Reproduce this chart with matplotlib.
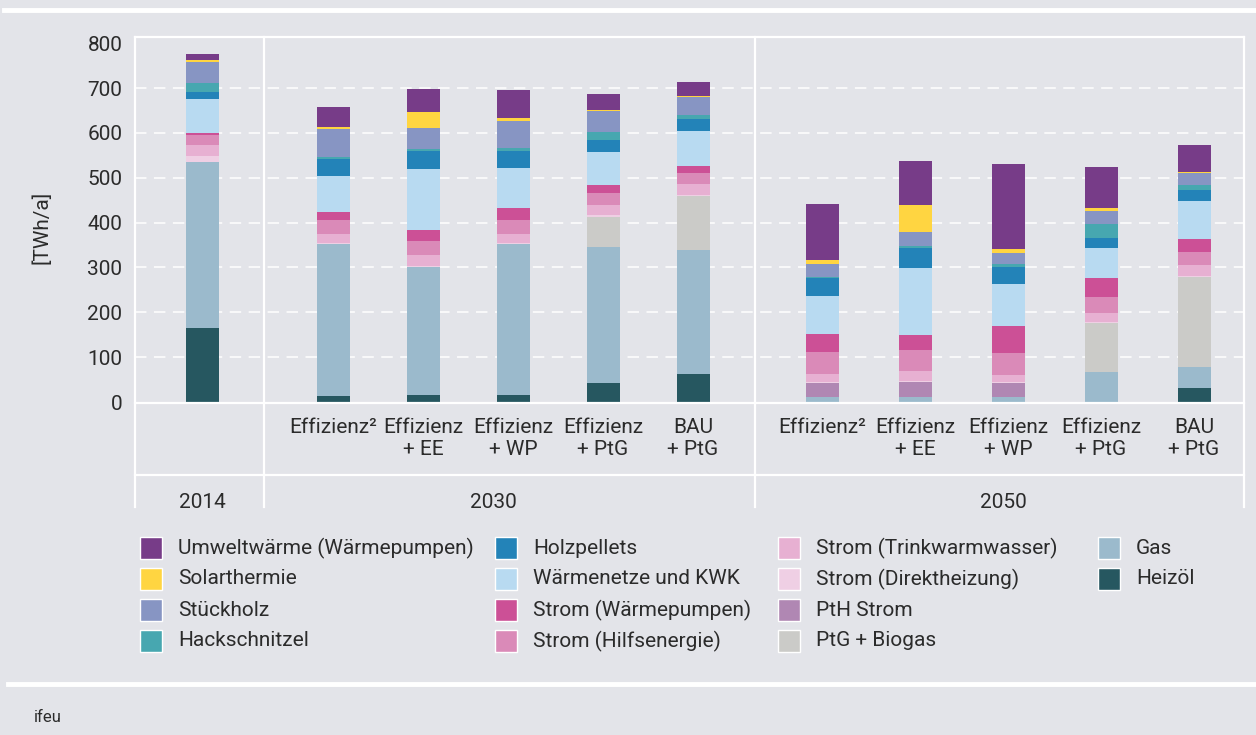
import matplotlib
matplotlib.use('Agg')
import matplotlib.pyplot as plt
from matplotlib.patches import Rectangle
from matplotlib.lines import Line2D

plt.rcParams['font.family'] = ['Roboto', 'DejaVu Sans']

W, H = 1256, 735
BG = '#e3e4e9'
TXT = '#2b2b2b'
FS = 15

# --- data (TWh/a), 11 bars: 2014, five 2030 scenarios, five 2050 scenarios ---
year_labels = ['2014', '2030', '2050']
scen_labels = ['',
               'Effizienz²', 'Effizienz\n+ EE', 'Effizienz\n+ WP', 'Effizienz\n+ PtG', 'BAU\n+ PtG',
               'Effizienz²', 'Effizienz\n+ EE', 'Effizienz\n+ WP', 'Effizienz\n+ PtG', 'BAU\n+ PtG']
group_sizes = [1, 5, 5]

# stack order bottom -> top
heizoel       = [165,  13,  15,  15,  42,  62,   0,   0,   0,   0,  31]
gas           = [370, 339, 286, 337, 303, 277,  11,  11,  11,  67,  47]
ptg_biogas    = [  0,   0,   0,   0,  67, 120,   0,   0,   0, 109, 201]
pth_strom     = [  0,   0,   0,   0,   0,   0,  31,  34,  31,   0,   0]
strom_direkt  = [ 14,   2,   2,   2,   5,   2,   3,   2,   3,   2,   2]
strom_trink   = [ 24,  20,  25,  20,  22,  25,  17,  22,  15,  20,  24]
strom_hilfs   = [ 22,  31,  30,  31,  27,  24,  49,  47,  50,  36,  29]
strom_wp      = [  6,  18,  25,  27,  18,  16,  40,  33,  59,  42,  29]
waermenetze   = [ 75,  81, 137,  90,  73,  78,  85, 149,  94,  67,  85]
holzpellets   = [ 16,  38,  40,  38,  27,  27,  40,  45,  38,  22,  24]
hackschnitzel = [ 20,   5,   4,   6,  18,   9,   3,   4,   6,  32,  11]
stueckholz    = [ 46,  62,  47,  61,  47,  40,  28,  32,  25,  28,  27]
solarthermie  = [  5,   4,  36,   6,   2,   2,   9,  60,   9,   7,   3]
umweltwaerme  = [ 13,  45,  51,  63,  36,  31, 125,  98, 189,  92,  60]

series = [
    ('Heizöl', heizoel, '#265760'),
    ('Gas', gas, '#9bbacc'),
    ('PtG + Biogas', ptg_biogas, '#cbcbc8'),
    ('PtH Strom', pth_strom, '#b087b3'),
    ('Strom (Direktheizung)', strom_direkt, '#efcfe4'),
    ('Strom (Trinkwarmwasser)', strom_trink, '#e7b0d2'),
    ('Strom (Hilfsenergie)', strom_hilfs, '#da8ab8'),
    ('Strom (Wärmepumpen)', strom_wp, '#cc5096'),
    ('Wärmenetze und KWK', waermenetze, '#b8daf1'),
    ('Holzpellets', holzpellets, '#2383b8'),
    ('Hackschnitzel', hackschnitzel, '#47a7b0'),
    ('Stückholz', stueckholz, '#8795c3'),
    ('Solarthermie', solarthermie, '#ffd541'),
    ('Umweltwärme (Wärmepumpen)', umweltwaerme, '#773c88'),
]

# --- layout (pixel based) ---
def fx(x):
    return x / W

def fy(y):
    return 1 - y / H

ax_l, ax_r, ax_t, ax_b = 135, 1244, 37, 402
sep_x = [ax_l, 264, 755, ax_r]
group_first = [202, 333, 822]
group_step = [0, 90, 93]
xpos = []
for g, n in enumerate(group_sizes):
    xpos += [group_first[g] + group_step[g] * i for i in range(n)]

fig = plt.figure(figsize=(W / 100, H / 100), dpi=100, facecolor=BG)
ax = fig.add_axes([fx(ax_l), fy(ax_b), (ax_r - ax_l) / W, (ax_b - ax_t) / H])
ax.set_facecolor(BG)
ax.set_xlim(ax_l, ax_r)
ax.set_ylim(0, 814)

bottom = [0] * len(xpos)
for name, vals, col in series:
    ax.bar(xpos, vals, width=33, bottom=bottom, color=col, linewidth=0, zorder=3)
    bottom = [b + v for b, v in zip(bottom, vals)]

for yv in range(100, 800, 100):
    ax.axhline(yv, color='white', lw=1.1, linestyle=(0, (7.5, 4.9)), zorder=1)

ax.set_yticks(range(0, 900, 100))
ax.tick_params(axis='y', length=0, pad=9, labelsize=FS, labelcolor=TXT)
ax.set_xticks([])
for s in ax.spines.values():
    s.set_visible(False)
ax.set_ylabel('[TWh/a]', fontsize=FS, color=TXT)
ax.yaxis.set_label_coords((52 - ax_l) / (ax_r - ax_l), (ax_b - 227) / (ax_b - ax_t))

# frame / table lines
lw_frame = 1.6
for x in sep_x:
    fig.add_artist(Line2D([fx(x), fx(x)], [fy(ax_t), fy(507)], color='white', lw=lw_frame))
for y in [ax_t, 403, 475]:
    fig.add_artist(Line2D([fx(ax_l), fx(ax_r)], [fy(y), fy(y)], color='white', lw=lw_frame))

# scenario labels
for x, lab in zip(xpos, scen_labels):
    if lab:
        fig.text(fx(x), fy(418), lab, ha='center', va='top', fontsize=FS, color=TXT,
                 linespacing=1.2)

for x, lab in zip([202, 493, 1003], year_labels):
    fig.text(fx(x), fy(502), lab, ha='center', va='center', fontsize=FS, color=TXT)

# legend (manual, 4 columns, column-major, top of stack first)
leg_items = series[::-1]
col_x = [140, 495, 778, 1098]
row_y = [548, 579, 610, 641]
for k, (name, vals, col) in enumerate(leg_items):
    c, r = divmod(k, 4)
    x0, yc = col_x[c], row_y[r]
    fig.add_artist(Rectangle((fx(x0), fy(yc + 11)), 22 / W, 22 / H, facecolor=col,
                             edgecolor='white', lw=1, transform=fig.transFigure))
    fig.text(fx(x0 + 38), fy(yc), name, ha='left', va='center', fontsize=FS, color=TXT)

# outer white rules and source
fig.add_artist(Line2D([fx(4), 1], [fy(10), fy(10)], color='white', lw=3.5))
fig.add_artist(Line2D([fx(8), 1], [fy(684), fy(684)], color='white', lw=3.5))
fig.text(fx(34), fy(717), 'ifeu', ha='left', va='center', fontsize=12, color=TXT)

fig.savefig('out.png', dpi=100, facecolor=BG)
